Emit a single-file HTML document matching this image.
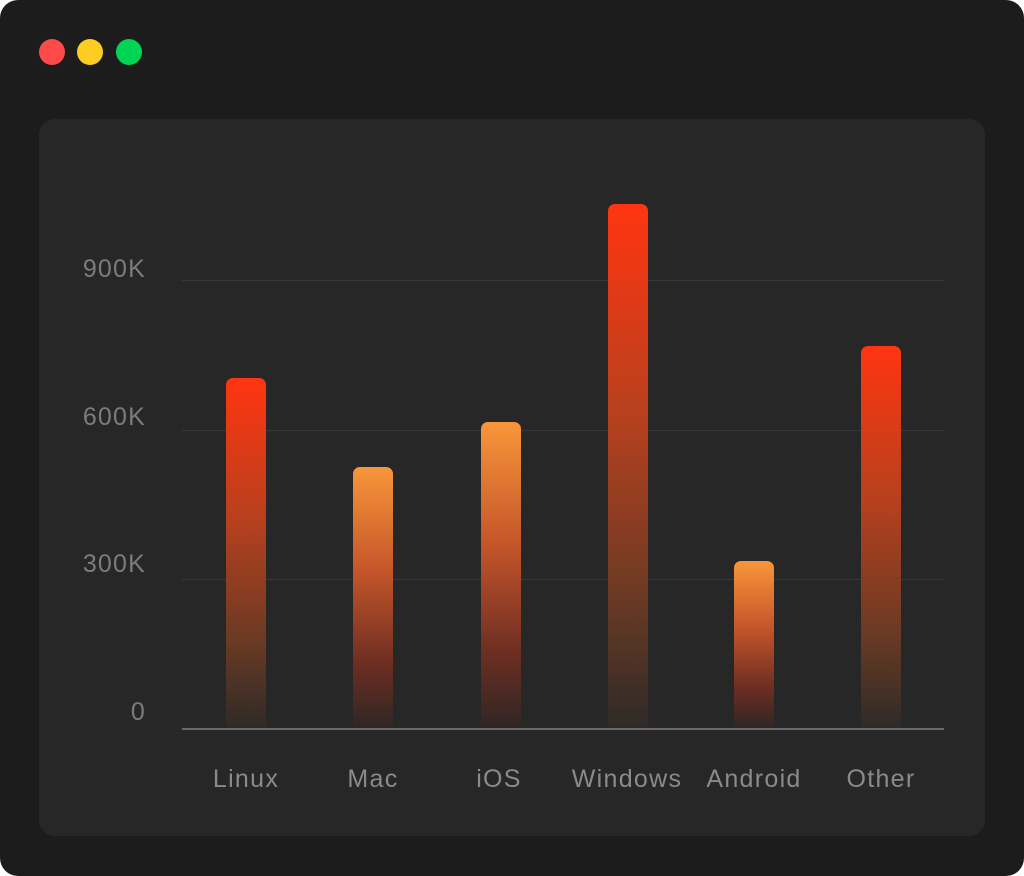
<!DOCTYPE html>
<html><head><style>
html,body{margin:0;padding:0;background:#fff;}
.win{position:absolute;left:0;top:0;width:1024px;height:876px;background:#1c1c1c;border-radius:18px;overflow:hidden;font-family:"Liberation Sans",sans-serif;}
.dot{position:absolute;top:39px;width:26px;height:26px;border-radius:50%;}
.panel{position:absolute;left:39px;top:119px;width:946px;height:717px;background:#272727;border-radius:16px;}
.grid{position:absolute;left:182px;width:762px;height:1px;background:#383838;}
.ylab{position:absolute;width:110px;left:36px;text-align:right;color:#7c7c7c;font-size:25px;line-height:24px;letter-spacing:1.2px;}
.bar{position:absolute;width:40px;border-radius:7px 7px 0 0;}
.red{background:linear-gradient(#ff3510 0%,#b8401e 40%,#6a3a24 75%,#2e2a27 100%);}
.org{background:linear-gradient(#f9963a 0%,#c4552a 40%,#6e2e22 75%,#2e2624 100%);}
.xlab{position:absolute;top:766px;width:160px;text-align:center;color:#8a8a8a;font-size:25px;line-height:26px;letter-spacing:1.3px;}
</style></head><body>
<div class="win">
<div class="dot" style="left:39px;background:#fe4a4a"></div>
<div class="dot" style="left:77px;background:#ffcc22"></div>
<div class="dot" style="left:116px;background:#00d455"></div>
<div class="panel"></div>
<div class="grid" style="top:280px"></div>
<div class="grid" style="top:430px"></div>
<div class="grid" style="top:579px"></div>
<div class="ylab" style="top:257px">900K</div>
<div class="ylab" style="top:405px">600K</div>
<div class="ylab" style="top:552px">300K</div>
<div class="ylab" style="top:700px">0</div>
<div class="bar red" style="left:226px;top:378px;height:351px"></div>
<div class="bar org" style="left:353px;top:467px;height:262px"></div>
<div class="bar org" style="left:481px;top:422px;height:307px"></div>
<div class="bar red" style="left:608px;top:204px;height:525px"></div>
<div class="bar org" style="left:734px;top:561px;height:168px"></div>
<div class="bar red" style="left:861px;top:346px;height:383px"></div>
<div class="grid" style="top:728px;height:2px;background:#6a6a6a"></div>
<div class="xlab" style="left:166px">Linux</div>
<div class="xlab" style="left:293px">Mac</div>
<div class="xlab" style="left:419px">iOS</div>
<div class="xlab" style="left:547px">Windows</div>
<div class="xlab" style="left:674px">Android</div>
<div class="xlab" style="left:801px">Other</div>
</div>
</body></html>
